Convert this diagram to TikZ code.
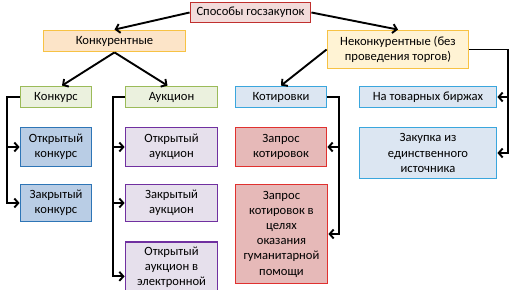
\documentclass[tikz,border=0pt]{standalone}
\usepackage{fontspec}
\setmainfont{Carlito}
\usetikzlibrary{arrows.meta}
\definecolor{rootline}{HTML}{C0302E}
\definecolor{rootfill}{HTML}{F2DCDB}
\definecolor{goldline}{HTML}{F7C244}
\definecolor{peachfill}{HTML}{FCE4C8}
\definecolor{creamfill}{HTML}{FFF3D4}
\definecolor{greenline}{HTML}{9BBB59}
\definecolor{greenfill}{HTML}{EBF1DE}
\definecolor{skyline}{HTML}{3AA6DD}
\definecolor{skyfill}{HTML}{DCE6F2}
\definecolor{blueline}{HTML}{2E75B6}
\definecolor{bluefill}{HTML}{B9CDE5}
\definecolor{violetline}{HTML}{7030A0}
\definecolor{violetfill}{HTML}{E6E0EC}
\definecolor{redline}{HTML}{E0312F}
\definecolor{redfill}{HTML}{E6B9B8}
\begin{document}
\begin{tikzpicture}[x=1pt,y=-1pt,
  box/.style={draw,line width=1.8pt,align=center,inner sep=2pt,
    font=\fontsize{12.6}{15.2}\selectfont},
  rootbox/.style={box,draw=rootline,fill=rootfill},
  konkbox/.style={box,draw=goldline,fill=peachfill},
  nekonkbox/.style={box,draw=goldline,fill=creamfill},
  greenbox/.style={box,draw=greenline,fill=greenfill},
  skybox/.style={box,draw=skyline,fill=skyfill},
  bluebox/.style={box,draw=blueline,fill=bluefill},
  violetbox/.style={box,draw=violetline,fill=violetfill},
  redbox/.style={box,draw=redline,fill=redfill},
  link/.style={line width=1.9pt,-{Straight Barb[length=4pt,width=9pt]}}]
\useasboundingbox (0,0) rectangle (516,289);
\clip (0,0) rectangle (516,289);
\node[rootbox,minimum width=120,minimum height=20] (root) at (250.5,12.5) {Способы госзакупок};
\node[konkbox,minimum width=142,minimum height=21] (konk) at (114.5,41) {Конкурентные};
\node[nekonkbox,minimum width=141,minimum height=38] (nekonk) at (398,49.5) {Неконкурентные (без\\проведения торгов)};
\node[greenbox,minimum width=71,minimum height=21] (konkurs) at (56,97) {Конкурс};
\node[greenbox,minimum width=92,minimum height=21] (aukcion) at (171.5,97) {Аукцион};
\node[skybox,minimum width=91,minimum height=21] (kotir) at (281,97) {Котировки};
\node[skybox,minimum width=137,minimum height=21] (birzh) at (428,97) {На товарных биржах};
\node[bluebox,minimum width=71,minimum height=39] (otkrkonk) at (56,147) {Открытый\\конкурс};
\node[violetbox,minimum width=92,minimum height=39] (otkrauk) at (171.5,147) {Открытый\\аукцион};
\node[redbox,minimum width=91,minimum height=39] (zapros) at (281,147) {Запрос\\котировок};
\node[skybox,minimum width=137,minimum height=51] (edinst) at (428,153) {Закупка из\\единственного\\источника};
\node[bluebox,minimum width=71,minimum height=37] (zakrkonk) at (56,203) {Закрытый\\конкурс};
\node[violetbox,minimum width=92,minimum height=37] (zakrauk) at (171.5,203) {Закрытый\\аукцион};
\node[redbox,minimum width=92,minimum height=99] (gumanit) at (281.5,234) {Запрос\\котировок в\\целях\\оказания\\гуманитарной\\помощи};
\node[violetbox,minimum width=92,anchor=north,inner ysep=5pt,text depth=20pt] (elektr) at (171.5,241) {Открытый\\аукцион в\\электронной};
\coordinate (kbus) at ([xshift=-13pt]konkurs.west);
\coordinate (abus) at ([xshift=-12pt]aukcion.west);
\coordinate (kobus) at ([xshift=12pt]kotir.east);
\coordinate (nkbus) at ([xshift=39pt]nekonk.east);
\draw[link] (root.west) -- (konk.north);
\draw[link] (root.east) -- (nekonk.north);
\draw[link] (konk.south) -- ([xshift=6pt]konkurs.north);
\draw[link] (konk.south) -- ([xshift=-4pt]aukcion.north);
\draw[link] (nekonk.west) -- (kotir.north);
\draw[link] (konkurs.west) -- (kbus) |- (zakrkonk.west);
\draw[link] (kbus |- otkrkonk.west) -- (otkrkonk.west);
\draw[link] (aukcion.west) -- (abus) |- (elektr.west);
\draw[link] (abus |- otkrauk.west) -- (otkrauk.west);
\draw[link] (abus |- zakrauk.west) -- (zakrauk.west);
\draw[link] (kotir.east) -- (kobus) |- (gumanit.east);
\draw[link] (kobus |- zapros.east) -- (zapros.east);
\draw[link] (nekonk.east) -- (nkbus) |- (edinst.east);
\draw[link] (nkbus |- birzh.east) -- (birzh.east);
\end{tikzpicture}
\end{document}
